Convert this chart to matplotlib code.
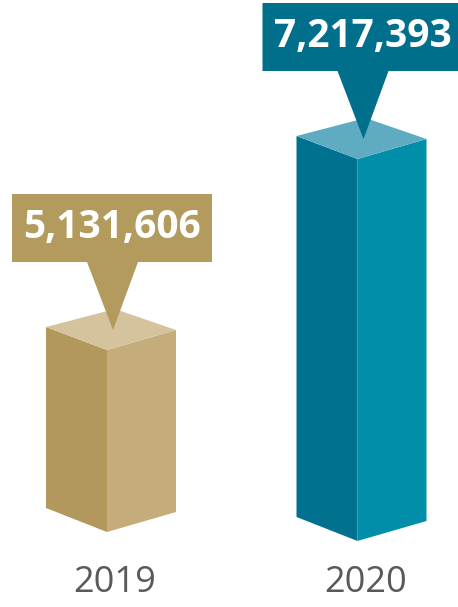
import numpy as np
import matplotlib.pyplot as plt
from matplotlib.patches import Polygon
from matplotlib.transforms import blended_transform_factory

# data
years = ["2019", "2020"]
visits = [5131606, 7217393]
labels = ["5,131,606", "7,217,393"]

# styles
bar_x = [111, 361.5]
bar_base = [3.144e6, 3.046e6]
face_left = ["#b2985b", "#00718e"]
face_right = ["#c5ad7b", "#008ea9"]
face_top = ["#d4c39d", "#5eabc2"]
box_col = ["#b39a5d", "#006f8b"]

W, H = 458, 607
fig = plt.figure(figsize=(W / 100, H / 100), dpi=100)
ax = fig.add_axes([0, 0, 1, 1])
ymin, ymax = 2.325e6, 8.954e6
ax.set_xlim(0, W)
ax.set_ylim(ymin, ymax)
ax.axis("off")
u = (ymax - ymin) / H  # value units per pixel

for i in range(len(years)):
    xc = bar_x[i]
    L, M, R = xc - 65, xc - 4, xc + 65
    B = L + R - M
    top = visits[i]
    bot = bar_base[i]
    ax.add_patch(Polygon([(L, top + 23 * u), (M, top), (M, bot), (L, bot + 24 * u)],
                         closed=True, fc=face_left[i], ec="none"))
    ax.add_patch(Polygon([(M, top), (R, top + 20 * u), (R, bot + 20 * u), (M, bot)],
                         closed=True, fc=face_right[i], ec="none"))
    ax.add_patch(Polygon([(L, top + 23 * u), (B, top + 41 * u), (R, top + 20 * u), (M, top)],
                         closed=True, fc=face_top[i], ec="none"))
    # callout
    tip = M + 6
    bx = xc + 1
    bw = 200
    ax.add_patch(Polygon([(bx - bw / 2, top + 156 * u), (bx + bw / 2, top + 156 * u),
                          (bx + bw / 2, top + 88 * u), (tip + 25, top + 88 * u),
                          (tip, top + 20 * u), (tip - 26, top + 88 * u),
                          (bx - bw / 2, top + 88 * u)],
                         closed=True, fc=box_col[i], ec="none"))
    ax.text(bx, top + 123 * u, labels[i], ha="center", va="center", color="white",
            fontsize=28, fontweight="bold", family=["Open Sans", "DejaVu Sans"])
    trans = blended_transform_factory(ax.transData, ax.transAxes)
    ax.text(xc + 4, 1 - 583 / H, years[i], transform=trans, ha="center", va="center",
            color="#58595b", fontsize=26, family=["Open Sans", "DejaVu Sans"])

fig.savefig("out.png", dpi=100)
